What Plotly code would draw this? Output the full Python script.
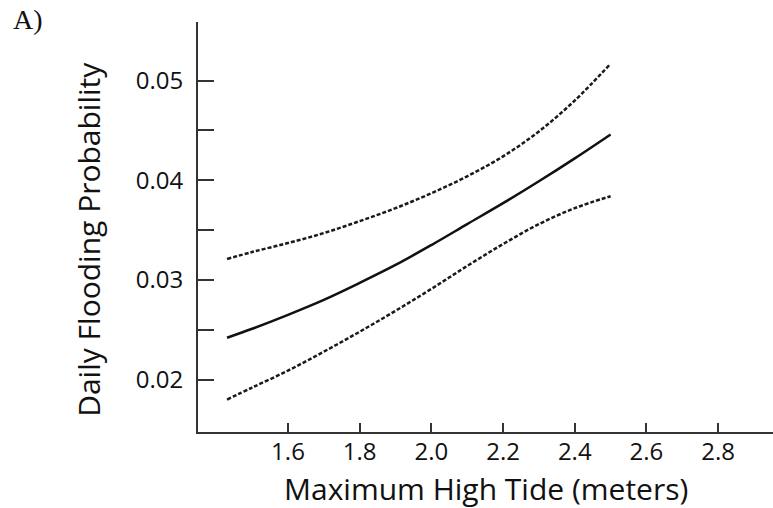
import plotly.graph_objects as go

# Data
tide = [1.43, 1.50, 1.60, 1.70, 1.80, 1.90, 2.00, 2.10, 2.20, 2.30, 2.40, 2.50]
prob_mean = [0.0242, 0.0251, 0.0265, 0.0280, 0.0297, 0.0315, 0.0335, 0.0356, 0.0377, 0.0399, 0.0422, 0.0446]
prob_upper = [0.0321, 0.0328, 0.0337, 0.0347, 0.0359, 0.0372, 0.0387, 0.0404, 0.0424, 0.0449, 0.0480, 0.0517]
prob_lower = [0.0180, 0.0192, 0.0209, 0.0228, 0.0248, 0.0269, 0.0291, 0.0314, 0.0336, 0.0356, 0.0372, 0.0384]

x_ticks = [1.6, 1.8, 2.0, 2.2, 2.4, 2.6, 2.8]
x_ticklabels = ["1.6", "1.8", "2.0", "2.2", "2.4", "2.6", "2.8"]
y_ticks = [0.02, 0.025, 0.03, 0.035, 0.04, 0.045, 0.05]
y_ticklabels = ["0.02", "", "0.03", "", "0.04", "", "0.05"]

W, H = 773, 508
L, R, T, B = 197.5, 0, 22, 75.5
pw, ph = W - L - R, H - T - B

def px(x):
    return (x - L) / pw

def py(y):
    return (H - B - y) / ph

dash = dict(color="#1a1a1a", width=2.5, dash="4px,2px", shape="spline")
fig = go.Figure()
fig.add_trace(go.Scatter(x=tide, y=prob_upper, mode="lines", line=dash, showlegend=False))
fig.add_trace(go.Scatter(x=tide, y=prob_mean, mode="lines", line=dict(color="#111", width=2.5, shape="spline"), showlegend=False))
fig.add_trace(go.Scatter(x=tide, y=prob_lower, mode="lines", line=dash, showlegend=False))

tickfont = dict(family="Open Sans", size=24, color="#111")
fig.update_xaxes(range=[1.349, 2.953], tickvals=x_ticks, ticktext=x_ticklabels,
                 showline=True, linecolor="#333", linewidth=2, ticks="inside", ticklen=9,
                 tickwidth=1.6, tickcolor="#333", showgrid=False, zeroline=False, tickfont=tickfont,
                 ticklabelstandoff=-3)
fig.update_yaxes(range=[0.01474, 0.05588], tickvals=y_ticks, ticktext=y_ticklabels,
                 showline=True, linecolor="#333", linewidth=2, ticks="inside", ticklen=16,
                 tickwidth=1.6, tickcolor="#333", showgrid=False, zeroline=False, tickfont=tickfont,
                 ticklabelstandoff=8)

titlefont = dict(family="Open Sans", size=30, color="#111")
fig.add_annotation(text="Daily Flooding Probability", xref="paper", yref="paper",
                   x=px(88), y=py(239.5), textangle=-90, showarrow=False, font=titlefont,
                   xanchor="center", yanchor="middle")
fig.add_annotation(text="Maximum High Tide (meters)", xref="paper", yref="paper",
                   x=px(486), y=py(489), showarrow=False, font=titlefont,
                   xanchor="center", yanchor="middle")
fig.add_annotation(text="A)", xref="paper", yref="paper", x=px(10), y=py(19),
                   showarrow=False, xanchor="left", yanchor="middle",
                   font=dict(family="Liberation Serif", size=28, color="#111"))

fig.update_layout(width=W, height=H, margin=dict(l=L, r=R, t=T, b=B, pad=0),
                  plot_bgcolor="white", paper_bgcolor="white")
fig.write_html("out.html", config={"displayModeBar": False},
               post_script="document.body.style.margin='0';document.body.style.overflow='hidden';")
